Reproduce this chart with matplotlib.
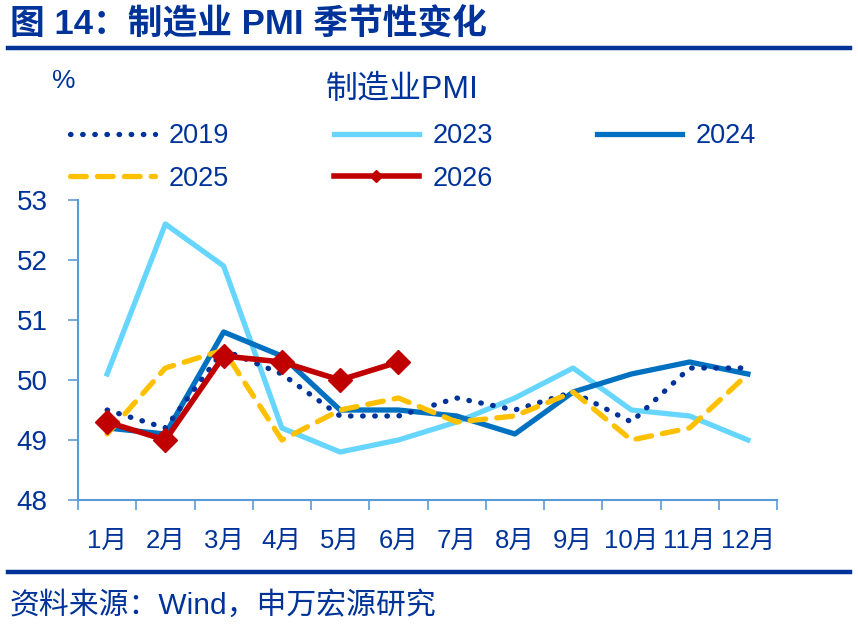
import matplotlib
matplotlib.use("Agg")
import matplotlib.pyplot as plt
from matplotlib.lines import Line2D

plt.rcParams['font.family'] = ['Liberation Sans', 'Noto Sans CJK SC', 'DejaVu Sans']

months = ['1月', '2月', '3月', '4月', '5月', '6月', '7月', '8月', '9月', '10月', '11月', '12月']
pmi_2019 = [49.5, 49.2, 50.5, 50.1, 49.4, 49.4, 49.7, 49.5, 49.8, 49.3, 50.2, 50.2]
pmi_2023 = [50.1, 52.6, 51.9, 49.2, 48.8, 49.0, 49.3, 49.7, 50.2, 49.5, 49.4, 49.0]
pmi_2024 = [49.2, 49.1, 50.8, 50.4, 49.5, 49.5, 49.4, 49.1, 49.8, 50.1, 50.3, 50.1]
pmi_2025 = [49.1, 50.2, 50.5, 49.0, 49.5, 49.7, 49.3, 49.4, 49.8, 49.0, 49.2, 50.1]
pmi_2026 = [49.3, 49.0, 50.4, 50.3, 50.0, 50.3]
yticks = [48, 49, 50, 51, 52, 53]

navy = '#003399'
axis_c = '#5B9BD5'

fig = plt.figure(figsize=(8.58, 6.24), dpi=100)
W, H = 858, 624
ax = fig.add_axes([78 / W, 1 - 500 / H, (777 - 78) / W, 300 / H])

x = list(range(len(months)))
l23, = ax.plot(x, pmi_2023, color='#66D6FF', lw=3.8, label='2023', zorder=2)
l24, = ax.plot(x, pmi_2024, color='#0070C0', lw=3.8, label='2024', zorder=3)
l19, = ax.plot(x, pmi_2019, color=navy, lw=3.8, linestyle=(0, (0.1, 2.2)), dash_capstyle='round',
               label='2019', zorder=4)
l25, = ax.plot(x, pmi_2025, color='#FFC000', lw=3.8, linestyle=(0, (3, 2.1)), dash_capstyle='round',
               label='2025', zorder=5)
l26, = ax.plot(list(range(len(pmi_2026))), pmi_2026, color='#C00000', lw=4.0, marker='D', markersize=12,
               label='2026', zorder=6)

ax.set_xlim(-0.5, len(months) - 0.5)
ax.set_ylim(48, 53)
ax.set_yticks(yticks)
ax.set_yticklabels([str(v) for v in yticks], fontsize=20, color=navy)
ax.set_xticks([i - 0.5 for i in range(len(months) + 1)])
ax.set_xticklabels([])
ax.set_xticks(x, minor=True)
ax.set_xticklabels(months, minor=True, fontsize=18.5, color=navy)
ax.tick_params(axis='x', which='minor', length=0, pad=21)
ax.tick_params(axis='x', which='major', length=7, width=1.2, color=axis_c, direction='out')
ax.tick_params(axis='y', length=7, width=1.2, color=axis_c, direction='out', pad=15)
for s in ['top', 'right']:
    ax.spines[s].set_visible(False)
for s in ['left', 'bottom']:
    ax.spines[s].set_color(axis_c)
    ax.spines[s].set_linewidth(1.5)

handles = [l19, l25, l23, l26, l24]
leg = fig.legend(handles=handles, labels=[h.get_label() for h in handles], ncol=3,
                 loc='upper left', bbox_to_anchor=(70 / W, 1 - 123 / H), frameon=False,
                 fontsize=19.5, handlelength=3.15, handletextpad=0.5, columnspacing=3.85,
                 labelspacing=0.62, markerscale=0.55, borderpad=0, borderaxespad=0)
for t in leg.get_texts():
    t.set_color(navy)

fig.text(402 / W, 1 - 90 / H, '制造业PMI', fontsize=23, color=navy, ha='center', va='center')
fig.text(64 / W, 1 - 81 / H, '%', fontsize=19, color=navy, ha='center', va='center')

fig.text(10 / W, 1 - 25 / H, '图 14：制造业 PMI 季节性变化', fontsize=25, fontweight='bold',
         color=navy, ha='left', va='center')
fig.add_artist(Line2D([8 / W, 850 / W], [1 - 48 / H, 1 - 48 / H], color=navy, lw=3.2,
                      transform=fig.transFigure))
fig.add_artist(Line2D([8 / W, 850 / W], [1 - 572 / H, 1 - 572 / H], color=navy, lw=3.2,
                      transform=fig.transFigure))
fig.text(10 / W, 1 - 605 / H, '资料来源：Wind，申万宏源研究', fontsize=21.5, color=navy,
         ha='left', va='center')

fig.savefig('out.png', dpi=100)
